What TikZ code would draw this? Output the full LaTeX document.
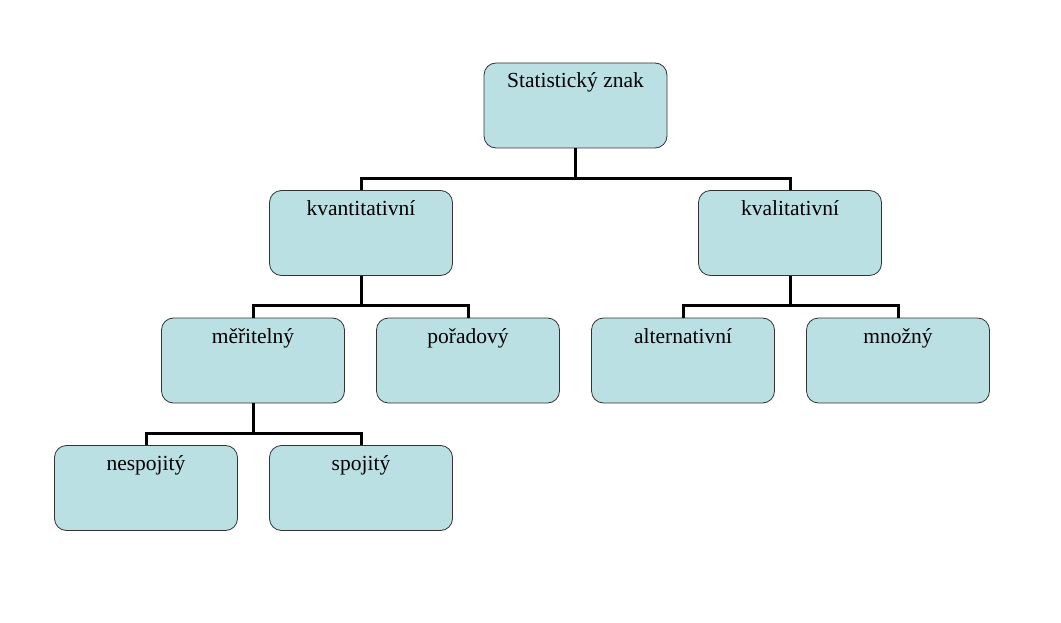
\documentclass[tikz,border=0pt]{standalone}
\usepackage{fontspec}
\setmainfont{Liberation Serif}
\usetikzlibrary{positioning}

\definecolor{boxfill}{RGB}{187,224,227}

\begin{document}
\begin{tikzpicture}[x=1pt,y=-1pt,
  box/.style={draw=black!80,line width=0.8pt,fill=boxfill,rounded corners=12pt,
    minimum width=183pt,inner xsep=0pt,inner ysep=0pt,
    text height=25pt,text depth=60pt,font=\fontsize{21.5}{24}\selectfont},
  link/.style={draw=black,line width=3pt}]
\useasboundingbox (0,0) rectangle (1061,623);
% level 0 and 1
\node[box] (znak) at (575.5,105.5) {Statistický znak};
\node[box] (kvant) at (361,233) {kvantitativní};
\node[box] (kval) at (790,233) {kvalitativní};
% level 2
\node[box] (meri) at (253,360.5) {měřitelný};
\node[box] (pora) at (468,360.5) {pořadový};
\node[box] (alter) at (683,360.5) {alternativní};
\node[box] (mnoz) at (898,360.5) {množný};
% level 3
\node[box] (nesp) at (146,488) {nespojitý};
\node[box] (spoj) at (361,488) {spojitý};
% tree links
\foreach \a/\b in {znak/kvant,znak/kval,kvant/meri,kvant/pora,
                   kval/alter,kval/mnoz,meri/nesp,meri/spoj}
  \draw[link] (\a.south) -- ++(0,30) -| (\b.north);
\end{tikzpicture}
\end{document}
